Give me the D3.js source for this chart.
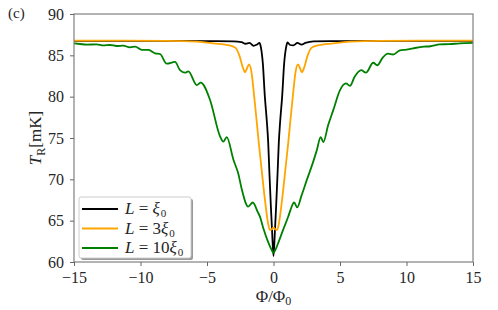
<!DOCTYPE html>
<html>
<head>
<meta charset="utf-8">
<script src="https://cdn.jsdelivr.net/npm/d3@7"></script>
<style>
  body { margin: 0; background: #fff; }
</style>
</head>
<body>
<div id="chart"></div>
<script>
// Flux axis ticks and temperature ticks
const xTicks = [-15, -10, -5, 0, 5, 10, 15];
const yTicks = [60, 65, 70, 75, 80, 85, 90];

// L = xi0 (black)
const blackPhi = [-15, -10, -5, -3, -2.4, -2.1, -1.8, -1.5, -1.25, -1.05, -0.95, -0.8, -0.65, -0.5, -0.4, -0.3, -0.2, -0.1, 0,
  0.1, 0.2, 0.3, 0.4, 0.5, 0.65, 0.8, 0.95, 1.05, 1.25, 1.5, 1.8, 2.1, 2.4, 3, 5, 10, 15];
const blackT = [86.75, 86.75, 86.73, 86.7, 86.6, 86.4, 86.5, 86.15, 86.3, 86.5, 86.0, 84.0, 80.0, 77.0, 74.5, 70.5, 66.8, 63.5, 60.7,
  63.5, 66.8, 70.5, 74.5, 77.0, 80.0, 84.0, 86.0, 86.55, 86.25, 86.2, 86.5, 86.3, 86.5, 86.7, 86.73, 86.75, 86.75];

// L = 3 xi0 (orange)
const orangePhi = [-15, -8, -5.75, -4.5, -3.3, -2.85, -2.55, -2.3, -2.13, -1.98, -1.84, -1.66, -1.5, -1.3, -1.1, -0.9, -0.65, -0.42, -0.28, -0.15, 0,
  0.15, 0.28, 0.42, 0.65, 0.9, 1.1, 1.3, 1.5, 1.66, 1.84, 1.98, 2.13, 2.3, 2.55, 2.85, 3.3, 4.5, 5.75, 8, 15];
const orangeT = [86.78, 86.76, 86.65, 86.45, 86.2, 85.9, 84.9, 83.5, 82.95, 83.5, 83.9, 83.0, 80.8, 77.6, 74.3, 71.3, 67.6, 64.8, 63.9, 63.95, 64.15,
  63.95, 63.9, 64.8, 67.6, 71.3, 74.3, 77.6, 80.8, 83.0, 83.9, 83.5, 82.95, 83.5, 84.9, 85.9, 86.2, 86.45, 86.65, 86.76, 86.78];

// L = 10 xi0 (green)
const greenPhi = [-15, -14.55, -14.05, -13.3, -12.8, -12.3, -11.8, -11.3, -10.8, -10.4, -9.9, -9.4, -8.9, -8.53, -8.03, -7.4, -7.03, -6.65, -6.4, -5.77, -5.47,
  -4.77, -4.02, -3.77, -3.52, -3.0, -2.65, -2.4, -1.9, -1.56, -1.2, -1.0, -0.77, -0.4, -0.15, 0,
  0.15, 0.4, 0.77, 1.11, 1.3, 1.55, 1.78, 2.1, 2.5, 3.0, 3.25, 3.55, 3.75, 4.1, 4.5, 5.0, 5.45, 5.75, 6.1, 6.6, 6.95, 7.5, 7.8, 8.2, 8.6, 9.0, 9.5, 10, 10.5, 11.3, 11.8, 12.5, 13.2, 14, 15];
const greenT = [86.45, 86.37, 86.29, 86.33, 86.2, 86.25, 86.13, 86.17, 85.97, 86.05, 85.65, 85.65, 85.25, 85.16, 84.0, 84.2, 83.2, 82.9, 83.07, 81.4, 81.7,
  79.6, 75.2, 74.55, 75.1, 72.3, 70.7, 68.9, 66.7, 67.2, 66.1, 65.4, 64.1, 62.4, 61.5, 61.1,
  61.5, 62.5, 64.1, 65.5, 66.4, 67.2, 66.6, 68.0, 69.9, 72.2, 73.5, 75.1, 74.5, 76.5, 78.4, 80.8, 81.6, 81.3, 82.4, 83.2, 82.9, 84.1, 83.8, 84.7, 85.2, 85.1, 85.6, 85.7, 85.85, 86.05, 86.1, 86.33, 86.35, 86.45, 86.5];

const seriesLabels = ['ξ', '3ξ', '10ξ'];
const seriesColors = ['#000000', '#ffa500', '#008000'];

const FONT = "'Liberation Serif', 'DejaVu Serif', serif";
const width = 498, height = 310;
const margin = { top: 14, right: 25, bottom: 48, left: 74 };
const innerW = width - margin.left - margin.right;
const innerH = height - margin.top - margin.bottom;

const svg = d3.select('#chart').append('svg')
  .attr('width', width).attr('height', height)
  .attr('font-family', FONT);

const g = svg.append('g').attr('transform', `translate(${margin.left},${margin.top})`);

const x = d3.scaleLinear().domain([-15, 15]).range([0, innerW]);
const y = d3.scaleLinear().domain([60, 90]).range([innerH, 0]);

g.append('clipPath').attr('id', 'clip')
  .append('rect').attr('width', innerW).attr('height', innerH);

const line = d3.line()
  .x(d => x(d[0]))
  .y(d => y(d[1]))
  .curve(d3.curveMonotoneX);

const series = [
  d3.zip(blackPhi, blackT),
  d3.zip(orangePhi, orangeT),
  d3.zip(greenPhi, greenT)
];

series.forEach((s, i) => {
  g.append('path')
    .datum(s)
    .attr('clip-path', 'url(#clip)')
    .attr('d', line)
    .attr('fill', 'none')
    .attr('stroke', seriesColors[i])
    .attr('stroke-width', 1.8)
    .attr('stroke-linejoin', 'round');
});

// Frame
g.append('rect')
  .attr('width', innerW).attr('height', innerH)
  .attr('fill', 'none')
  .attr('stroke', '#808080')
  .attr('stroke-width', 1.2);

const fmt = d => d < 0 ? '\u2212' + Math.abs(d) : String(d);

g.append('g')
  .attr('transform', `translate(0,${innerH})`)
  .call(d3.axisBottom(x).tickValues(xTicks).tickSize(4).tickPadding(6).tickFormat(fmt))
  .call(a => a.select('.domain').remove())
  .call(a => a.selectAll('line').attr('stroke', '#666'))
  .selectAll('text')
  .attr('font-family', FONT)
  .attr('fill', '#262626')
  .attr('font-size', '16px');

g.append('g')
  .call(d3.axisLeft(y).tickValues(yTicks).tickSize(4).tickPadding(6).tickFormat(fmt))
  .call(a => a.select('.domain').remove())
  .call(a => a.selectAll('line').attr('stroke', '#666'))
  .selectAll('text')
  .attr('font-family', FONT)
  .attr('fill', '#262626')
  .attr('font-size', '16px');

// Panel tag
svg.append('text')
  .attr('x', 8).attr('y', 18)
  .attr('font-size', '15px')
  .attr('fill', '#262626')
  .text('(c)');

// Y label
const yl = svg.append('text')
  .attr('transform', `translate(41, ${margin.top + innerH / 2}) rotate(-90)`)
  .attr('text-anchor', 'middle')
  .attr('fill', '#262626')
  .attr('font-size', '17px');
yl.append('tspan').attr('font-style', 'italic').text('T');
yl.append('tspan').attr('font-size', '12px').attr('dy', 4).text('R');
yl.append('tspan').attr('dy', -4).text('[mK]');

// X label
const xl = svg.append('text')
  .attr('x', margin.left + x(0))
  .attr('y', 302)
  .attr('text-anchor', 'middle')
  .attr('fill', '#262626')
  .attr('font-size', '17px');
xl.append('tspan').text('Φ/Φ');
xl.append('tspan').attr('font-size', '12px').attr('dy', 3).text('0');

// Legend
const lg = svg.append('g').attr('transform', 'translate(79,197)');
lg.append('rect')
  .attr('x', 2).attr('y', 2).attr('width', 112).attr('height', 61).attr('rx', 2)
  .attr('fill', '#999');
lg.append('rect')
  .attr('width', 112).attr('height', 61).attr('rx', 2)
  .attr('fill', '#fff').attr('stroke', '#cccccc');

seriesLabels.forEach((lab, i) => {
  const yy = 12 + i * 19.5;
  lg.append('line')
    .attr('x1', 3).attr('x2', 39).attr('y1', yy).attr('y2', yy)
    .attr('stroke', seriesColors[i]).attr('stroke-width', 1.8);
  const t = lg.append('text').attr('x', 46).attr('y', yy + 5)
    .attr('fill', '#262626').attr('font-size', '17px');
  t.append('tspan').attr('font-style', 'italic').text('L');
  t.append('tspan').text(' = ');
  const num = lab.replace('ξ', '');
  if (num) t.append('tspan').text(num);
  t.append('tspan').attr('font-style', 'italic').text('ξ');
  t.append('tspan').attr('font-size', '11px').attr('dx', 1).attr('dy', 3).text('0');
});
</script>
</body>
</html>
